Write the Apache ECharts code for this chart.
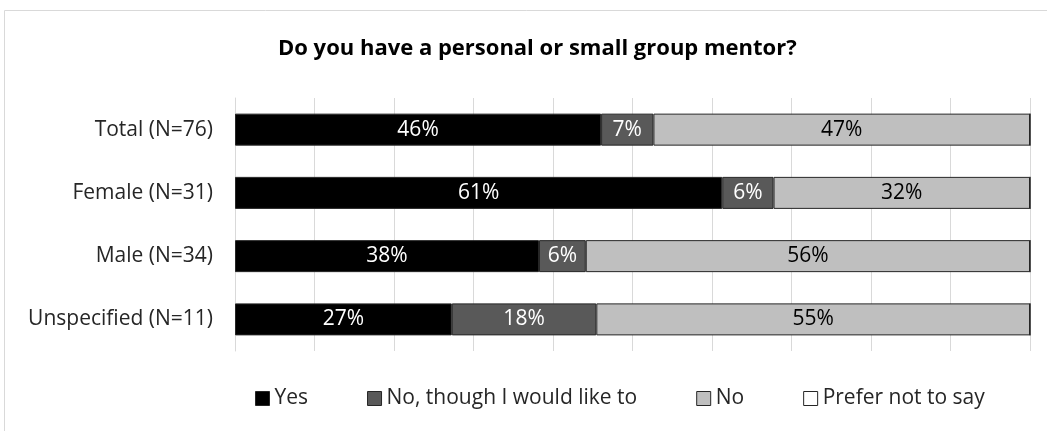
<!DOCTYPE html>
<html>
<head>
<meta charset="utf-8">
<script src="https://cdn.jsdelivr.net/npm/echarts@6/dist/echarts.min.js"></script>
<style>
  html, body { margin: 0; padding: 0; background: #fff; }
  #chart { width: 1047px; height: 431px; }
</style>
</head>
<body>
<div id="chart"></div>
<script>
const categories = ['Total (N=76)', 'Female (N=31)', 'Male (N=34)', 'Unspecified (N=11)'];
const seriesNames = ['Yes', 'No, though I would like to', 'No', 'Prefer not to say'];
const yesValues = [46.05, 61.29, 38.24, 27.27];
const noLikeValues = [6.58, 6.45, 5.88, 18.18];
const noValues = [47.37, 32.26, 55.88, 54.55];
const preferValues = [0, 0, 0, 0];

const COLORS = ['#000000', '#595959', '#bfbfbf', '#ffffff'];
const LABEL_COLORS = ['#ffffff', '#ffffff', '#000000', '#000000'];
const FONT = '"Open Sans", sans-serif';
const TITLE = 'Do you have a personal or small group mentor?';

// centre the title where the original sits (a bit right of page centre)
const ctx = document.createElement('canvas').getContext('2d');
ctx.font = 'bold 22px "Open Sans"';
const titleWidth = ctx.measureText(TITLE).width;

const chart = echarts.init(document.getElementById('chart'));

const allValues = [yesValues, noLikeValues, noValues, preferValues];

const series = seriesNames.map((name, i) => ({
  name: name,
  type: 'bar',
  stack: 'total',
  barWidth: 32,
  data: allValues[i],
  itemStyle: {
    color: COLORS[i],
    borderColor: '#262626',
    borderWidth: 1,
  },
  label: {
    show: i < 3,
    position: 'inside',
    color: LABEL_COLORS[i],
    fontFamily: FONT,
    fontSize: 21,
    formatter: (p) => (p.value > 0 ? Math.round(p.value) + '%' : ''),
  },
}));

const option = {
  animation: false,
  title: {
    text: TITLE,
    left: Math.round(532 - titleWidth / 2),
    top: 33,
    textStyle: {
      color: '#000000',
      fontFamily: FONT,
      fontSize: 22,
      fontWeight: 'bold',
    },
  },
  graphic: [{
    type: 'rect',
    shape: { x: 4.5, y: 10.5, width: 1060, height: 440 },
    style: { fill: 'none', stroke: '#d9d9d9', lineWidth: 1 },
    z: -1,
  }],
  legend: {
    data: seriesNames,
    left: 250,
    top: 383,
    itemWidth: 14,
    itemHeight: 14,
    itemGap: 59,
    icon: 'rect',
    itemStyle: { borderColor: '#262626', borderWidth: 1 },
    textStyle: {
      color: '#262626',
      fontFamily: FONT,
      fontSize: 21,
    },
  },
  grid: {
    left: 235,
    right: 17,
    top: 98,
    bottom: 80,
  },
  xAxis: {
    type: 'value',
    min: 0,
    max: 100,
    interval: 10,
    axisLabel: { show: false },
    axisTick: { show: false },
    axisLine: { show: false },
    splitLine: { lineStyle: { color: '#d9d9d9', width: 1 } },
  },
  yAxis: {
    type: 'category',
    data: categories,
    inverse: true,
    axisTick: { show: false },
    axisLine: { show: true, lineStyle: { color: '#d9d9d9' } },
    axisLabel: {
      color: '#262626',
      fontFamily: FONT,
      fontSize: 21,
      margin: 22,
    },
  },
  series: series,
};

chart.setOption(option);
</script>
</body>
</html>
